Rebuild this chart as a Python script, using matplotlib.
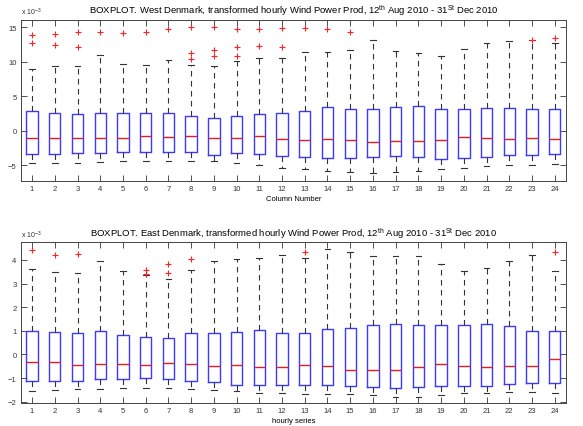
# Boxplots of transformed hourly wind power production, West and East Denmark
import numpy as np
import matplotlib.pyplot as plt

hours = np.arange(1, 25)

# West Denmark (x 10^-3)
w_q1 = [-3.27, -3.37, -3.17, -3.17, -3.08, -3.08, -3.08, -3.08, -3.41, -3.22, -3.37, -3.6,
        -3.7, -3.94, -3.94, -3.75, -3.65, -3.8, -4.0, -3.94, -3.7, -3.5, -3.46, -3.32]
w_med = [-1.06, -1.06, -0.96, -1.06, -1.0, -0.77, -0.87, -0.77, -0.96, -0.96, -0.77, -1.2,
         -1.25, -1.2, -1.35, -1.54, -1.49, -1.44, -1.25, -0.87, -0.96, -1.2, -1.06, -1.2]
w_q3 = [2.84, 2.6, 2.4, 2.64, 2.64, 2.64, 2.6, 2.2, 1.92, 2.1, 2.4, 2.55,
        2.84, 3.41, 3.13, 3.13, 3.41, 3.56, 3.17, 3.13, 3.3, 3.37, 3.17, 3.17]
w_lo = [-4.6, -4.66, -4.57, -4.5, -4.42, -4.33, -4.42, -4.33, -4.42, -4.6, -4.9, -5.3,
        -5.58, -5.8, -5.96, -6.06, -5.96, -5.87, -5.58, -5.34, -5.05, -4.9, -4.86, -4.76]
w_hi = [9.0, 9.4, 9.4, 11.0, 9.7, 9.57, 10.2, 9.57, 9.42, 10.1, 10.6, 10.6,
        11.4, 11.4, 11.7, 13.1, 11.6, 11.35, 10.8, 11.9, 12.8, 13.0, 13.1, 12.8]
w_out = [[13.9, 12.7], [14.1, 12.5], [14.3, 12.1], [14.3], [14.2], [14.3], [14.7],
         [15.1, 11.25, 10.4], [15.0, 11.7, 10.8], [14.7, 12.1, 10.8], [14.8, 12.3],
         [14.95, 12.1], [14.86], [14.8], [14.3], [], [], [], [], [], [], [], [13.2], [13.5]]

# East Denmark (x 10^-3)
e_q1 = [-1.1, -1.13, -1.1, -1.05, -1.02, -0.99, -1.02, -1.1, -1.16, -1.27, -1.27, -1.27,
        -1.3, -1.3, -1.34, -1.37, -1.41, -1.37, -1.34, -1.34, -1.34, -1.24, -1.19, -1.2]
e_med = [-0.31, -0.31, -0.44, -0.42, -0.42, -0.44, -0.35, -0.4, -0.48, -0.44, -0.54, -0.54,
         -0.44, -0.49, -0.65, -0.64, -0.65, -0.52, -0.42, -0.49, -0.52, -0.49, -0.49, -0.17]
e_q3 = [0.99, 0.96, 0.93, 1.0, 0.83, 0.76, 0.71, 0.92, 0.92, 0.96, 1.03, 0.92,
        0.92, 1.06, 1.13, 1.26, 1.3, 1.26, 1.26, 1.26, 1.3, 1.21, 0.99, 0.99]
e_lo = [-1.54, -1.5, -1.47, -1.44, -1.41, -1.41, -1.43, -1.47, -1.5, -1.55, -1.62, -1.62,
        -1.65, -1.67, -1.69, -1.72, -1.78, -1.78, -1.71, -1.62, -1.62, -1.58, -1.58, -1.62]
e_hi = [3.63, 3.5, 3.45, 3.95, 3.53, 3.38, 3.18, 3.59, 3.95, 4.05, 4.1, 4.22,
        4.1, 4.46, 4.34, 4.15, 4.15, 4.15, 3.84, 3.53, 3.64, 3.95, 4.22, 3.53]
e_out = [[4.41], [4.22], [4.25], [], [], [3.56, 3.42], [3.84, 3.43], [4.05], [], [], [], [],
         [4.34], [], [], [], [], [], [], [], [], [], [], [4.32]]

plt.rcParams['font.family'] = ['Liberation Sans', 'DejaVu Sans']
plt.rcParams['mathtext.fontset'] = 'custom'
plt.rcParams['mathtext.rm'] = 'Liberation Sans'
plt.rcParams['mathtext.it'] = 'Liberation Sans'


def draw(ax, q1, med, q3, lo, hi, out, title, xlabel, ylim, yticks):
    stats = []
    for i in range(len(hours)):
        stats.append(dict(med=med[i], q1=q1[i], q3=q3[i], whislo=lo[i],
                          whishi=hi[i], fliers=out[i]))
    ax.bxp(stats, positions=hours, widths=0.5,
           boxprops=dict(color='#3b3bff', lw=1.0),
           medianprops=dict(color='#e02020', lw=1.0),
           whiskerprops=dict(color='#333333', lw=0.8, linestyle=(0, (5, 4))),
           capprops=dict(color='#333333', lw=0.8),
           flierprops=dict(marker='+', markeredgecolor='#ff2020', markersize=4,
                           markeredgewidth=0.8, linestyle='none'))
    ax.set_xlim(0.5, 24.5)
    ax.set_ylim(*ylim)
    ax.set_yticks(yticks)
    ax.set_xticks(hours)
    ax.set_xticklabels([str(h) for h in hours])
    ax.tick_params(direction='in', length=4, width=0.6, labelsize=5.5,
                   top=True, right=True, pad=3, colors='#333333')
    for s in ax.spines.values():
        s.set_linewidth(0.7)
        s.set_color('#444444')
    ax.set_title(title, fontsize=6.8, pad=5)
    ax.set_xlabel(xlabel, fontsize=5.5, labelpad=2)
    ax.text(0.0, 1.015, r'x 10$^{-3}$', transform=ax.transAxes, fontsize=5,
            ha='left', va='bottom', color='#333333')


fig = plt.figure(figsize=(5.83, 4.27), dpi=100)
ax1 = fig.add_axes([0.0355, 0.5745, 0.9355, 0.377])
ax2 = fig.add_axes([0.0355, 0.0539, 0.9355, 0.3761])

draw(ax1, w_q1, w_med, w_q3, w_lo, w_hi, w_out,
     r'BOXPLOT. West Denmark, transformed hourly Wind Power Prod, 12$^{\mathrm{th}}$ Aug 2010 - 31$^{\mathrm{St}}$ Dec 2010',
     'Column Number', (-7.2, 16.1), [-5, 0, 5, 10, 15])
draw(ax2, e_q1, e_med, e_q3, e_lo, e_hi, e_out,
     r'BOXPLOT. East Denmark, transformed hourly Wind Power Prod, 12$^{\mathrm{th}}$ Aug 2010 - 31$^{\mathrm{St}}$ Dec 2010',
     'hourly series', (-2.05, 4.74), [-2, -1, 0, 1, 2, 3, 4])

fig.savefig('out.png', dpi=100)
